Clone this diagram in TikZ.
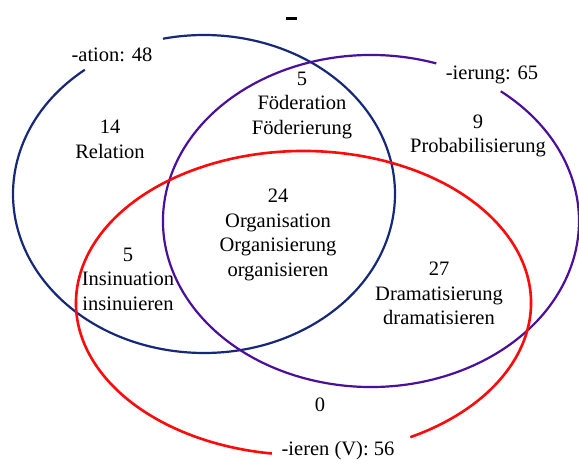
\documentclass[tikz,border=0pt]{standalone}
\usepackage{fontspec}
\setmainfont{Liberation Serif}
\usetikzlibrary{shapes, arrows}
\definecolor{ationblue}{RGB}{22,40,120}
\definecolor{ierungviolet}{RGB}{75,15,155}
\definecolor{ierenred}{RGB}{255,10,10}

\begin{document}
\begin{tikzpicture}[x=1pt, y=1pt,
	txt/.style={align=center, inner sep=0pt, font=\fontsize{20.5}{24.5}\selectfont},
	ring/.style={line width=2.2pt}]
		\useasboundingbox (0,0) rectangle (579,461);
		\fill[white] (0,0) rectangle (579,461);
		% centres of the three sets
		\coordinate (A) at (204,267);
		\coordinate (B) at (371,240);
		\coordinate (C) at (303.5,158);
		\draw[ring, ationblue] (A) ++(128.6:191 and 159) arc[start angle=128.6, end angle=462.4, x radius=191, y radius=159];
		\draw[ring, ierungviolet] (B) ++(71.7:208 and 166) arc[start angle=71.7, end angle=411.4, x radius=208, y radius=166];
		\draw[ring, ierenred, line width=2.6pt] (C) ++(298:227.5 and 152) arc[start angle=298, end angle=622, x radius=227.5, y radius=152];
		\fill (286,441) rectangle (297,444);
		% set labels
		\node at (112,406) [txt] (ation) {-ation: 48};
		\node at (492,386) [txt] (ierung) {-ierung: 65};
		\node at (338,10) [txt] (ieren) {-ieren (V): 56};
		% regions
		\node at (110,321.5) [txt] (rel) {14\\Relation};
		\node at (302,355.7) [txt] (fed) {5\\Föderation\\Föderierung};
		\node at (478,325) [txt] (prob) {9\\Probabilisierung};
		\node at (278,226) [txt] (org) {24\\Organisation\\Organisierung\\organisieren};
		\node at (128,182) [txt] (ins) {5\\Insinuation\\insinuieren};
		\node at (439,167.5) [txt] (dram) {27\\Dramatisierung\\dramatisieren};
		\node at (320,56) [txt] (zero) {0};
		\end{tikzpicture}
\end{document}
